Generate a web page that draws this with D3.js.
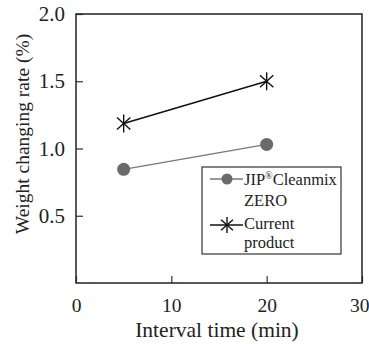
<!DOCTYPE html>
<html>
<head>
<meta charset="utf-8">
<script src="https://cdn.jsdelivr.net/npm/d3@7"></script>
<style>
  body { margin: 0; background: #fff; }
  svg text { font-family: "Liberation Serif", "Times New Roman", Times, Tinos, "DejaVu Serif", "Noto Serif", serif; fill: #222; }
</style>
</head>
<body>
<div id="chart"></div>
<script>
// data
const intervals = [5, 20];
const cleanmixValues = [0.845, 1.03];
const currentValues = [1.186, 1.5];
const xTicks = [0, 10, 20, 30];
const yTicks = [0.5, 1.0, 1.5, 2.0];

const width = 369, height = 344;
const margin = { top: 14, right: 7, bottom: 61, left: 76 };

const svg = d3.select("#chart").append("svg")
  .attr("width", width)
  .attr("height", height);

const x = d3.scaleLinear().domain([0, 30]).range([margin.left, width - margin.right]);
const y = d3.scaleLinear().domain([0, 2]).range([height - margin.bottom, margin.top]);

// ticks pointing inward
svg.append("g")
  .attr("transform", `translate(0,${y(0)})`)
  .call(d3.axisBottom(x).tickValues(xTicks).tickSize(-7).tickPadding(15).tickFormat(d3.format("d")))
  .attr("font-family", null)
  .call(g => g.select(".domain").remove())
  .call(g => g.selectAll("line").attr("stroke", "#333").attr("stroke-width", 1.2))
  .call(g => g.selectAll("text").attr("font-size", 19.5).attr("fill", "#222"))
  // keep the last label inside the window
  .call(g => g.selectAll("text").filter(d => d === 30).attr("text-anchor", "end").attr("dx", 7));

svg.append("g")
  .attr("transform", `translate(${x(0)},0)`)
  .call(d3.axisLeft(y).tickValues(yTicks).tickSize(-7).tickPadding(11).tickFormat(d3.format(".1f")))
  .attr("font-family", null)
  .call(g => g.select(".domain").remove())
  .call(g => g.selectAll("line").attr("stroke", "#333").attr("stroke-width", 1.2))
  .call(g => g.selectAll("text").attr("font-size", 21).attr("fill", "#222"));

// frame
svg.append("rect")
  .attr("x", x(0)).attr("y", y(2))
  .attr("width", x(30) - x(0)).attr("height", y(0) - y(2))
  .attr("fill", "none").attr("stroke", "#222").attr("stroke-width", 1.5);

// axis titles
svg.append("text")
  .attr("x", 217).attr("y", 337)
  .attr("text-anchor", "middle").attr("font-size", 21.5)
  .text("Interval time (min)");

svg.append("text")
  .attr("transform", "translate(29,134) rotate(-90)")
  .attr("text-anchor", "middle").attr("font-size", 19.5)
  .text("Weight changing rate (%)");

const line = d3.line().x(d => x(d[0])).y(d => y(d[1]));

const cleanmix = intervals.map((t, i) => [t, cleanmixValues[i]]);
const current = intervals.map((t, i) => [t, currentValues[i]]);

svg.append("path").datum(cleanmix).attr("d", line)
  .attr("fill", "none").attr("stroke", "#777").attr("stroke-width", 1.3);
svg.append("path").datum(current).attr("d", line)
  .attr("fill", "none").attr("stroke", "#111").attr("stroke-width", 1.5);

// asterisk: one vertical stroke and two steep diagonals
function star(g, cx, cy, r) {
  const s = g.append("g").attr("transform", `translate(${cx},${cy})`)
    .attr("stroke", "#111").attr("stroke-width", 1.4);
  [90, 42, -42].forEach(a => {
    const rad = a * Math.PI / 180;
    s.append("line")
      .attr("x1", -r * Math.cos(rad)).attr("y1", -r * Math.sin(rad))
      .attr("x2", r * Math.cos(rad)).attr("y2", r * Math.sin(rad));
  });
}

svg.selectAll(".dot").data(cleanmix).enter().append("circle")
  .attr("cx", d => x(d[0])).attr("cy", d => y(d[1])).attr("r", 6.5)
  .attr("fill", "#6b6b6b");

current.forEach(d => star(svg, x(d[0]), y(d[1]), 9));

// legend
const lg = svg.append("g");
lg.append("rect").attr("x", 202).attr("y", 167).attr("width", 139).attr("height", 87)
  .attr("fill", "#fff").attr("stroke", "#333").attr("stroke-width", 1.2);

lg.append("line").attr("x1", 210).attr("x2", 243).attr("y1", 179).attr("y2", 179)
  .attr("stroke", "#777").attr("stroke-width", 1.3);
lg.append("circle").attr("cx", 227).attr("cy", 179).attr("r", 5.5).attr("fill", "#6b6b6b");
lg.append("line").attr("x1", 210).attr("x2", 243).attr("y1", 225).attr("y2", 225)
  .attr("stroke", "#111").attr("stroke-width", 1.5);
star(lg, 227, 225, 8);

const t1 = lg.append("text").attr("x", 244).attr("y", 185).attr("font-size", 16.5);
t1.append("tspan").text("JIP");
t1.append("tspan").attr("font-size", 10).attr("dy", -6).text("®");
t1.append("tspan").attr("dy", 6).text("Cleanmix");
lg.append("text").attr("x", 244).attr("y", 206).attr("font-size", 16.5).text("ZERO");
lg.append("text").attr("x", 244).attr("y", 229).attr("font-size", 16.5).text("Current");
lg.append("text").attr("x", 244).attr("y", 248).attr("font-size", 16.5).text("product");
</script>
</body>
</html>
